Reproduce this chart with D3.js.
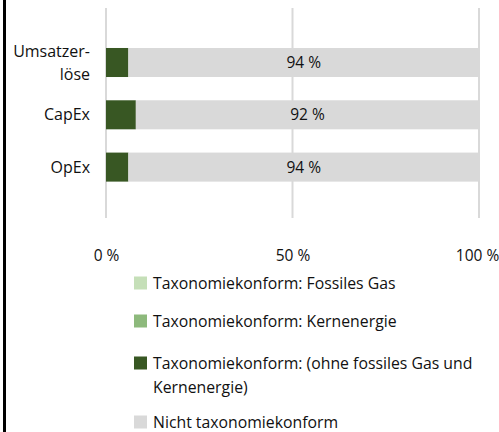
<!DOCTYPE html>
<html><head><meta charset="utf-8">
<script src="https://cdn.jsdelivr.net/npm/d3@7"></script>
<style>html,body{margin:0;padding:0;background:#fff;}svg{display:block;}</style>
</head><body>
<svg id="c" width="499" height="432"></svg>
<script>
const categories = ["Umsatzerlöse", "CapEx", "OpEx"];
const categoryLines = [["Umsatzer-", "löse"], ["CapEx"], ["OpEx"]];
const seriesNames = ["Taxonomiekonform: Fossiles Gas", "Taxonomiekonform: Kernenergie", "Taxonomiekonform: (ohne fossiles Gas und Kernenergie)", "Nicht taxonomiekonform"];
const fossilGas = [0, 0, 0];
const nuclear = [0, 0, 0];
const alignedOther = [6, 8, 6];
const notAligned = [94, 92, 94];
const xTicks = [0, 50, 100];
const xTickLabels = ["0 %", "50 %", "100 %"];
const barLabels = ["94 %", "92 %", "94 %"];
const legendLines = [["Taxonomiekonform: Fossiles Gas"], ["Taxonomiekonform: Kernenergie"], ["Taxonomiekonform: (ohne fossiles Gas und", "Kernenergie)"], ["Nicht taxonomiekonform"]];
const colors = ["#c5dfb8", "#8db97c", "#385723", "#d9d9d9"];

const font = "'Open Sans', sans-serif";
const fs = 15.5;
const svg = d3.select("#c");
svg.append("rect").attr("x", 3).attr("y", 0).attr("width", 3).attr("height", 432).attr("fill", "#000");

const x = d3.scaleLinear().domain([0, 100]).range([106, 479]);
const y = d3.scaleBand().domain(categories).range([36.35, 193.25]).paddingInner(0.445).paddingOuter(0.2225);

svg.append("g").selectAll("line").data(xTicks).join("line")
  .attr("x1", d => x(d)).attr("x2", d => x(d)).attr("y1", 8).attr("y2", 218)
  .attr("stroke", "#d9d9d9").attr("stroke-width", 2);

const rows = categories.map((c, i) => ({cat: c, s0: fossilGas[i], s1: nuclear[i], s2: alignedOther[i], s3: notAligned[i]}));
const stack = d3.stack().keys(["s0", "s1", "s2", "s3"])(rows);
svg.append("g").selectAll("g").data(stack).join("g").attr("fill", (d, i) => colors[i])
  .selectAll("rect").data(d => d).join("rect")
  .attr("x", d => x(d[0])).attr("width", d => x(d[1]) - x(d[0]))
  .attr("y", d => y(d.data.cat)).attr("height", y.bandwidth());

svg.append("g").selectAll("text").data(stack[3]).join("text")
  .attr("x", d => (x(d[0]) + x(d[1])) / 2).attr("y", d => y(d.data.cat) + y.bandwidth() / 2)
  .attr("dy", "0.35em").attr("text-anchor", "middle")
  .attr("font-family", font).attr("font-size", fs).attr("fill", "#111")
  .text((d, i) => barLabels[i]);

categories.forEach((c, i) => {
  const lines = categoryLines[i];
  const cy = y(c) + y.bandwidth() / 2;
  const lh = 23;
  const t = svg.append("text").attr("text-anchor", "end").attr("font-family", font).attr("font-size", 16).attr("fill", "#111");
  lines.forEach((l, j) => {
    t.append("tspan").attr("x", 90).attr("y", cy + (j - (lines.length - 1) / 2) * lh).attr("dy", "0.35em").text(l);
  });
});

const xAxis = d3.axisBottom(x).tickValues(xTicks).tickFormat((d, i) => xTickLabels[i]).tickSize(0).tickPadding(0);
const ax = svg.append("g").attr("transform", "translate(0,247)").call(xAxis);
ax.select(".domain").remove();
ax.selectAll("text").attr("font-family", font).attr("font-size", fs).attr("fill", "#111").attr("dy", "0.9em");
ax.selectAll(".tick").filter(d => d === 100).select("text").attr("dx", -2);

const legendY = [283, 321, 363, 422];
legendLines.forEach((lines, i) => {
  const g = svg.append("g");
  g.append("rect").attr("x", 134).attr("y", legendY[i] - 6.5).attr("width", 13).attr("height", 13).attr("fill", colors[i]);
  const t = g.append("text").attr("font-family", font).attr("font-size", 15.8).attr("fill", "#111");
  lines.forEach((l, j) => t.append("tspan").attr("x", 153).attr("y", legendY[i] + j * 24).attr("dy", "0.35em").text(l));
});
</script>
</body></html>
